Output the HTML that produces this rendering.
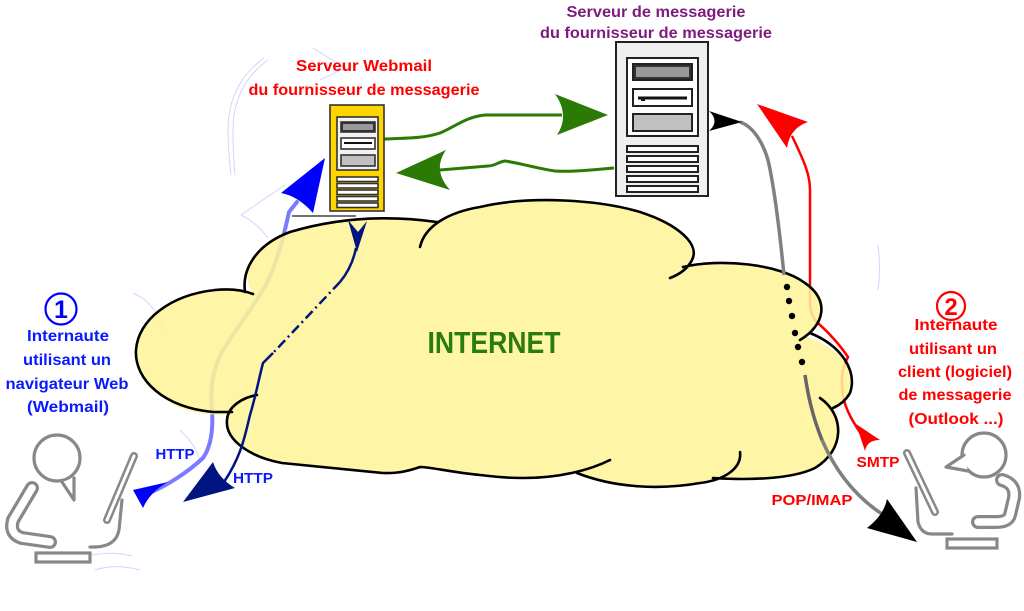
<!DOCTYPE html>
<html><head><meta charset="utf-8"><style>
html,body{margin:0;padding:0;background:#fff;}
svg{display:block;}
text{font-family:"Liberation Sans",sans-serif;font-weight:bold;}
</style></head><body>
<svg width="1024" height="611" viewBox="0 0 1024 611" xmlns="http://www.w3.org/2000/svg">
<rect width="1024" height="611" fill="#fff"/>

<!-- faint ghost strokes -->
<g fill="none" stroke="#d4d4ff" stroke-width="1">
<path d="M264,58 C240,75 228,100 228,130 C228,150 230,165 231,175"/>
<path d="M268,60 C244,77 233,102 233,130 C233,150 234,165 235,175"/>
<path d="M313,48 L345,68 L320,80"/>
<path d="M241,215 L285,185 M241,215 C255,222 262,230 268,238"/>
<path d="M133,293 C150,300 160,315 162,330"/>
<path d="M180,430 C190,440 198,450 200,462"/>
<path d="M95,570 C110,565 125,566 140,570"/>
<path d="M92,555 C110,552 120,553 132,556"/>
<path d="M878,245 C880,260 880,275 878,290"/>
</g>

<!-- lines under cloud -->
<path d="M152,492 C167,485 187,473 203,458 C212,445 213,425 212,410 C210,390 212,370 222,352 C235,330 255,305 267,283 C278,260 284,235 289,212 L297,202" fill="none" stroke="#7b7bff" stroke-width="4" stroke-linecap="round"/>
<path d="M863,437 C855,425 845,410 843,395 C841,380 841,370 848,357 C840,345 828,332 820,325 C812,318 810,312 810,300 L810,190 C810,175 805,163 792,136" fill="none" stroke="#ff0000" stroke-width="2.5"/>

<!-- cloud fill -->
<path d="M253,294 C240,275 250,245 290,232 C330,220 380,214 437,222 C470,205 530,195 580,200 C640,205 690,228 693,255 C694,262 688,266 683,268 C720,260 780,265 810,285 C830,300 825,325 805,337 C835,345 858,368 850,393 C847,400 840,405 833,408 C845,425 842,455 815,468 C790,480 750,480 725,477 C700,485 660,490 630,485 C600,482 580,476 573,472 C555,476 540,479 523,478 C500,477 485,476 480,475 C460,472 440,468 420,467 C400,473 390,474 383,473 C340,470 300,467 280,463 C250,455 225,440 227,415 C200,415 180,410 170,402 C145,388 132,365 136,345 C142,315 175,295 220,290 C235,290 248,292 253,294 Z" fill="#fff399" fill-opacity="0.87"/>

<!-- cloud strokes -->
<g fill="none" stroke="#000" stroke-width="2.6" stroke-linecap="round">
<path d="M245,292 C242,270 255,245 290,232 C330,220 380,214 437,222"/>
<path d="M420,247 C425,225 450,212 480,207 C530,195 600,200 640,212 C680,225 700,245 692,260 C687,270 678,275 670,278"/>
<path d="M683,267 C720,258 780,264 805,283 C830,300 825,325 800,340"/>
<path d="M810,333 C840,345 858,370 850,393 C846,400 840,405 833,408"/>
<path d="M820,398 C845,415 845,450 815,468 C790,480 745,480 713,478"/>
<path d="M740,452 C742,468 725,480 700,483 C660,490 615,488 577,473"/>
<path d="M610,460 C590,470 560,478 523,478 C500,478 490,476 480,475 C450,472 430,467 420,467 C400,474 390,473 383,473 L282,463 C250,457 225,440 227,420 C228,405 245,397 257,395"/>
<path d="M253,294 C240,289 225,289 215,290 C170,295 138,320 136,350 C134,380 165,408 213,412 L232,412"/>
</g>
<line x1="292" y1="216" x2="356" y2="216" stroke="#444" stroke-width="1.5"/>

<text x="494" y="353" font-size="31" fill="#2a7d0c" text-anchor="middle" textLength="133" lengthAdjust="spacingAndGlyphs">INTERNET</text>

<!-- dark blue arrow -->
<path d="M356,248 C354,258 350,270 340,282" fill="none" stroke="#00157f" stroke-width="2.5"/>
<path d="M340,282 L273,353" fill="none" stroke="#00157f" stroke-width="2.5" stroke-dasharray="10 4 2 4"/>
<path d="M273,353 L263,363 C259,378 256,395 250,415 C245,435 242,455 224,482" fill="none" stroke="#00157f" stroke-width="2.5"/>
<path d="M348,220 L358,232 L367,221 L357,252 Z" fill="#00157f"/>
<path d="M183,502 L213,462 Q218,478 235,488 Z" fill="#00157f"/>

<!-- light blue arrowheads -->
<path d="M325,158 L281,193 Q298,196 313,213 Z" fill="#0000ff"/>
<path d="M133,490 L168,482 Q150,492 143,508 Z" fill="#0000ff"/>

<!-- red arrowheads -->
<path d="M757,104 L808,122 Q790,128 787,148 Z" fill="#ff0000"/>
<path d="M856,424 L880,440 Q867,440 865,451 Z" fill="#ff0000"/>

<!-- gray POP/IMAP line -->
<path d="M740,122 C752,126 762,140 768,160 C775,190 780,235 784,275" fill="none" stroke="#808080" stroke-width="3.5"/>
<path d="M805,375 C808,395 812,415 822,440" fill="none" stroke="#666" stroke-width="3.5"/>
<path d="M822,440 C835,470 855,497 885,516" fill="none" stroke="#808080" stroke-width="3.5"/>
<g fill="#000">
<circle cx="787" cy="287" r="3.2"/><circle cx="789" cy="301" r="3.2"/><circle cx="792" cy="316" r="3.2"/>
<circle cx="795" cy="333" r="3.2"/><circle cx="798" cy="347" r="3.2"/><circle cx="802" cy="362" r="3.2"/>
</g>
<path d="M742,122 L709,111 Q720,121 709,131 Z" fill="#000"/>
<path d="M917,542 L887,499 Q884,515 867,528 Z" fill="#000"/>

<!-- green arrows -->
<path d="M384,139 C410,138 425,138 440,133 C455,127 465,117 485,115 L562,115" fill="none" stroke="#2a7a05" stroke-width="3"/>
<path d="M608,115 L555,94 Q570,115 557,135 Z" fill="#2a7a05"/>
<path d="M614,168 C590,170 570,172 555,171 C535,168 515,162 505,161 C498,162 495,166 488,166 L440,170" fill="none" stroke="#2a7a05" stroke-width="3"/>
<path d="M396,173 L446,150 Q432,170 450,190 Z" fill="#2a7a05"/>

<!-- gray server -->
<g stroke="#222" stroke-width="2">
<rect x="616" y="42" width="92" height="154" fill="#efefef"/>
<rect x="627" y="58" width="71" height="78" fill="#fff"/>
<rect x="633" y="64" width="59" height="16" fill="#333"/>
<rect x="636" y="67" width="53" height="10" fill="#999" stroke="none"/>
<rect x="633" y="89" width="59" height="17" fill="#fff"/>
<rect x="633" y="114" width="59" height="17" fill="#c0c0c0"/>
<rect x="627" y="146" width="71" height="6" fill="#fff"/>
<rect x="627" y="156" width="71" height="6" fill="#fff"/>
<rect x="627" y="166" width="71" height="6" fill="#fff"/>
<rect x="627" y="176" width="71" height="6" fill="#fff"/>
<rect x="627" y="186" width="71" height="6" fill="#fff"/>
</g>
<line x1="638" y1="98" x2="687" y2="98" stroke="#111" stroke-width="3"/>
<rect x="641" y="98" width="4" height="3" fill="#111"/>

<!-- yellow server -->
<g stroke="#333" stroke-width="1.6">
<rect x="330" y="105" width="54" height="106" fill="#ffd500"/>
<rect x="337" y="117" width="41" height="53" fill="#f2f2f2"/>
<rect x="341" y="122" width="34" height="10" fill="#333"/>
<rect x="343" y="124" width="30" height="6" fill="#999" stroke="none"/>
<rect x="341" y="138" width="34" height="11" fill="#fff"/>
<rect x="341" y="155" width="34" height="11" fill="#c0c0c0"/>
<rect x="337" y="177" width="41" height="4.5" fill="#fff"/>
<rect x="337" y="183.5" width="41" height="4.5" fill="#fff"/>
<rect x="337" y="190" width="41" height="4.5" fill="#fff"/>
<rect x="337" y="196.5" width="41" height="4.5" fill="#fff"/>
<rect x="337" y="203" width="41" height="4.5" fill="#fff"/>
</g>
<line x1="344" y1="143" x2="372" y2="143" stroke="#111" stroke-width="2"/>

<!-- left person -->
<g fill="none" stroke="#888" stroke-linecap="round" stroke-linejoin="round">
<circle cx="57" cy="458" r="23" stroke-width="3.2"/>
<path d="M62,482 L74,500 L74,478" stroke-width="3.2" fill="#fff"/>
<path d="M32,488 L13,520 Q9,534 22,538 L50,542" stroke-width="14"/>
<path d="M32,488 L13,520 Q9,534 22,538 L50,542" stroke="#fff" stroke-width="7.5"/>
<path d="M134,456 L107,520" stroke-width="8"/>
<path d="M134,456 L107,520" stroke="#fff" stroke-width="3"/>
<path d="M122,500 L119,530 Q116,546 96,547 L90,547" stroke-width="3.2"/>
<rect x="36" y="553" width="54" height="9" stroke-width="3.2" fill="#fff" stroke-linejoin="miter"/>
</g>

<!-- right person -->
<g fill="none" stroke="#888" stroke-linecap="round" stroke-linejoin="round">
<circle cx="984" cy="455" r="22" stroke-width="3.2"/>
<path d="M968,471 L946,467 L964,455" stroke-width="3.2" fill="#fff"/>
<path d="M1002,480 Q1016,484 1014,498 L1010,515 Q1008,522 996,522 L978,522" stroke-width="14"/>
<path d="M1002,480 Q1016,484 1014,498 L1010,515 Q1008,522 996,522 L978,522" stroke="#fff" stroke-width="7.5"/>
<path d="M907,453 L935,512" stroke-width="8"/>
<path d="M907,453 L935,512" stroke="#fff" stroke-width="3"/>
<path d="M916,488 L918,522 Q921,534 932,534 L952,534" stroke-width="3.2"/>
<rect x="947" y="539" width="50" height="9" stroke-width="3.2" fill="#fff" stroke-linejoin="miter"/>
</g>

<!-- labels -->
<text x="656" y="17" font-size="16" fill="#7e1a7e" text-anchor="middle" textLength="179" lengthAdjust="spacingAndGlyphs">Serveur de messagerie</text>
<text x="656" y="38" font-size="16" fill="#7e1a7e" text-anchor="middle" textLength="232" lengthAdjust="spacingAndGlyphs">du fournisseur de messagerie</text>
<text x="364" y="71" font-size="16" fill="#ff0000" text-anchor="middle" textLength="136" lengthAdjust="spacingAndGlyphs">Serveur Webmail</text>
<text x="364" y="95" font-size="16" fill="#ff0000" text-anchor="middle" textLength="231" lengthAdjust="spacingAndGlyphs">du fournisseur de messagerie</text>

<circle cx="61" cy="309" r="15.5" fill="none" stroke="#0000ff" stroke-width="2.2"/>
<text x="61" y="318" font-size="25" fill="#0000ff" text-anchor="middle">1</text>
<g fill="#0a1aff" font-size="16" text-anchor="middle">
<text x="68" y="341" textLength="82" lengthAdjust="spacingAndGlyphs">Internaute</text>
<text x="67" y="365" textLength="88" lengthAdjust="spacingAndGlyphs">utilisant un</text>
<text x="67" y="389" textLength="123" lengthAdjust="spacingAndGlyphs">navigateur Web</text>
<text x="68" y="412" textLength="82" lengthAdjust="spacingAndGlyphs">(Webmail)</text>
<text x="175" y="459" font-size="15" textLength="39" lengthAdjust="spacingAndGlyphs">HTTP</text>
<text x="253" y="483" font-size="15" textLength="40" lengthAdjust="spacingAndGlyphs">HTTP</text>
</g>

<circle cx="951" cy="306" r="14" fill="none" stroke="#ff0000" stroke-width="2.2"/>
<text x="951" y="315" font-size="24" fill="#ff0000" text-anchor="middle">2</text>
<g fill="#ff0000" font-size="16" text-anchor="middle">
<text x="956" y="330" textLength="83" lengthAdjust="spacingAndGlyphs">Internaute</text>
<text x="953" y="354" textLength="88" lengthAdjust="spacingAndGlyphs">utilisant un</text>
<text x="955" y="377" textLength="114" lengthAdjust="spacingAndGlyphs">client (logiciel)</text>
<text x="955" y="400" textLength="113" lengthAdjust="spacingAndGlyphs">de messagerie</text>
<text x="956" y="424" textLength="95" lengthAdjust="spacingAndGlyphs">(Outlook ...)</text>
<text x="878" y="467" font-size="15" textLength="43" lengthAdjust="spacingAndGlyphs">SMTP</text>
<text x="812" y="505" font-size="15" textLength="81" lengthAdjust="spacingAndGlyphs">POP/IMAP</text>
</g>
</svg>
</body></html>
